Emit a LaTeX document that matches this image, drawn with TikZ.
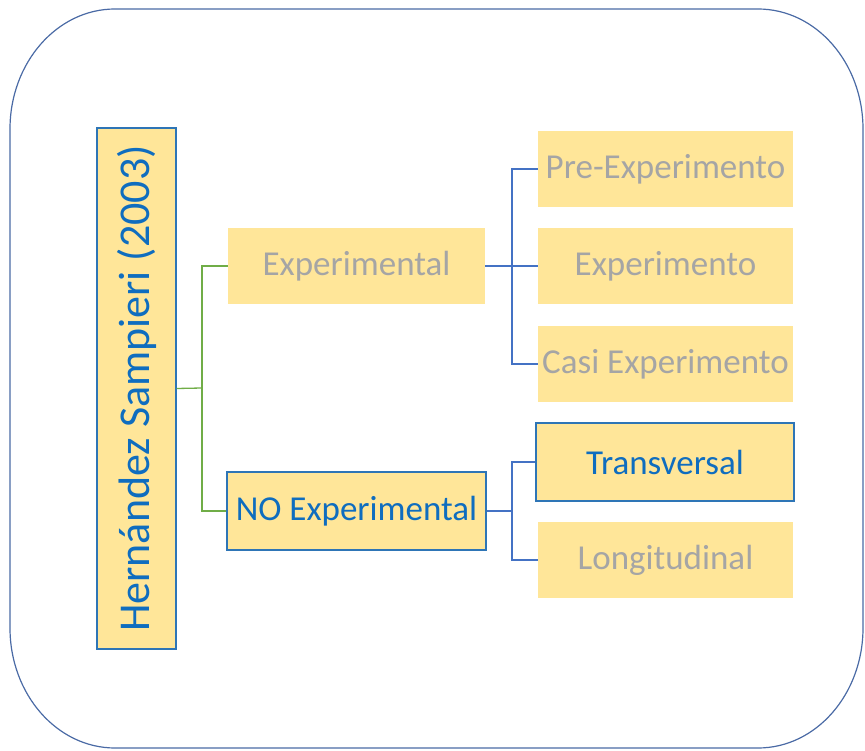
\documentclass[tikz,border=0pt]{standalone}
\usepackage{fontspec}
\setmainfont{Carlito}
\definecolor{boxfill}{HTML}{FFE699}
\definecolor{boxline}{HTML}{2E75B6}
\definecolor{bluetext}{HTML}{0F6DBF}
\definecolor{graytext}{HTML}{A5A5A5}
\definecolor{greenline}{HTML}{70AD47}
\definecolor{blueline}{HTML}{4472C4}
\definecolor{outerline}{HTML}{4A6AA5}
\begin{document}
\begin{tikzpicture}[x=1pt,y=-1pt,
  item/.style={fill=boxfill, inner sep=0pt, minimum width=255pt, minimum height=76pt,
    font=\fontsize{35}{40}\selectfont, text=graytext},
  active/.style={draw=boxline, line width=1.3pt, text=bluetext},
  gconn/.style={draw=greenline, line width=1.3pt},
  bconn/.style={draw=blueline, line width=1.3pt}]
\useasboundingbox (0,0) rectangle (865,751);
% outer frame
\draw[outerline, line width=1.2pt] (10,129)
  arc[start angle=180, end angle=270, x radius=105, y radius=120] -- (758,9)
  arc[start angle=270, end angle=360, x radius=105, y radius=120] -- (863,628)
  arc[start angle=0, end angle=90, x radius=105, y radius=120] -- (115,748)
  arc[start angle=90, end angle=180, x radius=105, y radius=120] -- cycle;
% main box
\node[fill=boxfill, draw=boxline, line width=1.3pt, inner sep=0pt, rotate=90,
  minimum width=521pt, minimum height=79pt, text=bluetext,
  font=\fontsize{44}{50}\selectfont] (main) at (136.5,388.5) {Hernández Sampieri (2003)};
% second level
\node[item, minimum width=257pt] (exp) at (356.5,266) {Experimental};
\node[item, active, minimum width=259pt, minimum height=78pt] (noexp) at (356.5,511) {NO Experimental};
% third level
\node[item] (pre) at (665.5,169) {Pre-Experimento};
\node[item] (ex) at (665.5,266) {Experimento};
\node[item] (casi) at (665.5,364) {Casi Experimento};
\node[item, active, minimum width=258pt, minimum height=78pt] (trans) at (665,462) {Transversal};
\node[item] (longi) at (665.5,560) {Longitudinal};
% connectors
\coordinate (g) at (202,388);
\draw[gconn] (main.south) -- (g);
\draw[gconn] (exp.west) -| (g);
\draw[gconn] (noexp.west) -| (g);
\coordinate (b1) at (512,266);
\draw[bconn] (exp.east) -- (ex.west);
\draw[bconn] (pre.west) -| (b1);
\draw[bconn] (casi.west) -| (b1);
\coordinate (b2) at (512,511);
\draw[bconn] (noexp.east) -- (b2);
\draw[bconn] (trans.west) -| (b2);
\draw[bconn] (longi.west) -| (b2);
\end{tikzpicture}
\end{document}
